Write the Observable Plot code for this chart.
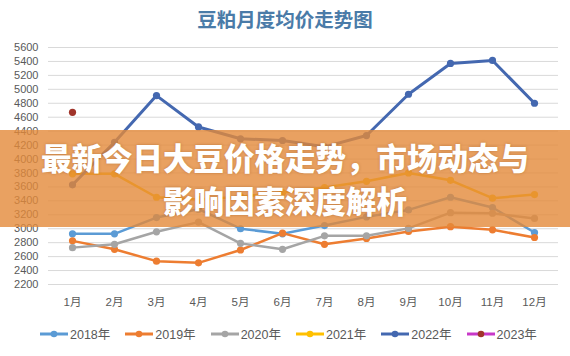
<!DOCTYPE html>
<html>
<head>
<meta charset="utf-8">
<script src="https://cdn.jsdelivr.net/npm/d3@7"></script>
<script src="https://cdn.jsdelivr.net/npm/@observablehq/plot@0.6"></script>
<style>
  html, body { margin: 0; padding: 0; background: #fff; }
  #wrap { position: relative; width: 570px; height: 356px; overflow: hidden; font-family: "Liberation Sans", "Noto Sans CJK SC", sans-serif; }
  #title { position: absolute; top: 5px; left: 0; width: 570px; text-align: center; font-family: "Noto Sans CJK SC", sans-serif; font-weight: 700; font-size: 19.5px; line-height: 28px; color: #4A7BA8; }
  #chart { position: absolute; top: 0; left: 0; }
  #banner { position: absolute; left: 0; top: 130px; width: 570px; height: 97px; background: rgba(228,138,58,0.8); color: #fff; font-family: "Noto Sans CJK SC", sans-serif; font-weight: 900; font-size: 30.5px; text-align: center; line-height: 43px; padding-top: 6px; box-sizing: border-box; text-shadow: 0 0 3px rgba(120,60,10,0.35); }
  #legend { position: absolute; top: 324px; left: 40px; display: flex; align-items: center; font-size: 12.5px; color: #595959; }
  .item { display: flex; align-items: center; margin-right: 15px; }
  .item svg { margin-right: 2px; }
</style>
</head>
<body>
<div id="wrap">
  <div id="chart"></div>
  <div id="title">豆粕月度均价走势图</div>
  <div id="banner">最新今日大豆价格走势，市场动态与<br>影响因素深度解析</div>
  <div id="legend"></div>
</div>
<script>
const months = ["1月","2月","3月","4月","5月","6月","7月","8月","9月","10月","11月","12月"];
const yTicks = [2200,2400,2600,2800,3000,3200,3400,3600,3800,4000,4200,4400,4600,4800,5000,5200,5400,5600];
const years = ["2018年","2019年","2020年","2021年","2022年","2023年"];
const lineColors = ["#5B9BD5","#ED7D31","#A5A5A5","#FFC000","#4468B0","#C838C8"];
const dotColors  = ["#5B9BD5","#ED7D31","#A5A5A5","#FFC000","#4468B0","#A0342A"];
const y2018 = [2927, 2927, 3160, 3280, 3000, 2927, 3046, 3170, 3270, 3452, 3305, 2946];
const y2019 = [2826, 2705, 2535, 2511, 2695, 2937, 2777, 2860, 2961, 3030, 2985, 2874];
const y2020 = [2729, 2777, 2956, 3095, 2790, 2705, 2898, 2898, 3005, 3230, 3222, 3148];
const y2021 = [3788, 3788, 3452, 3420, 3460, 3520, 3590, 3680, 3800, 3695, 3438, 3490];
const y2022 = [3630, 4241, 4910, 4460, 4290, 4266, 4175, 4337, 4929, 5371, 5414, 4800];
const y2023 = [4670, null, null, null, null, null, null, null, null, null, null, null];
const seriesValues = [y2018, y2019, y2020, y2021, y2022, y2023];

const seriesData = seriesValues.map((vals, k) =>
  vals.map((v, i) => ({year: years[k], month: months[i], value: v})).filter(d => d.value != null));

const marks = [
  Plot.gridY(yTicks, {stroke: "#d9d9d9", strokeOpacity: 1, strokeWidth: 1}),
  Plot.axisY(yTicks, {tickSize: 0, tickPadding: 10, fontSize: 11, fill: "#595959", label: null, tickFormat: d => String(d)}),
  Plot.axisX(months, {tickSize: 0, tickPadding: 13, fontSize: 11.5, fill: "#595959", label: null})
];
seriesData.forEach((d, k) => {
  marks.push(Plot.lineY(d, {x: "month", y: "value", stroke: lineColors[k], strokeWidth: k === 4 ? 3 : 2.5, strokeLinejoin: "round"}));
  marks.push(Plot.dot(d, {x: "month", y: "value", fill: dotColors[k], r: 3.6}));
});

const chart = Plot.plot({
  width: 570, height: 318,
  marginTop: 47, marginBottom: 34, marginLeft: 48, marginRight: 12,
  style: {fontFamily: "'Liberation Sans','Noto Sans CJK SC',sans-serif", background: "transparent"},
  x: {type: "point", domain: months, padding: 0.5, label: null, axis: null},
  y: {domain: [2200, 5600], label: null, axis: null},
  marks
});
document.getElementById("chart").appendChild(chart);

const legend = document.getElementById("legend");
years.forEach((y, k) => {
  const item = document.createElement("div");
  item.className = "item";
  item.innerHTML = `<svg width="28" height="10"><line x1="0" y1="5" x2="28" y2="5" stroke="${lineColors[k]}" stroke-width="3"/><circle cx="14" cy="5" r="3.3" fill="${dotColors[k]}"/></svg><span>${y}</span>`;
  legend.appendChild(item);
});
</script>
</body>
</html>
